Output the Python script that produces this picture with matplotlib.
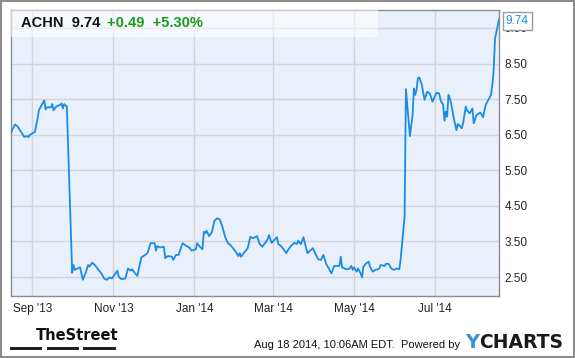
import matplotlib
matplotlib.use('Agg')
import matplotlib.pyplot as plt
from matplotlib.patches import Rectangle
import pandas as pd

plt.rcParams['font.family'] = ['Liberation Sans', 'DejaVu Sans']

dates = [
    '2013-08-16', '2013-08-19', '2013-08-21', '2013-08-23', '2013-08-26',
    '2013-08-28', '2013-08-29', '2013-08-30', '2013-09-03', '2013-09-05',
    '2013-09-06', '2013-09-09', '2013-09-10', '2013-09-11', '2013-09-12',
    '2013-09-15', '2013-09-16', '2013-09-17', '2013-09-19', '2013-09-22',
    '2013-09-23', '2013-09-24', '2013-09-25', '2013-09-27', '2013-10-01',
    '2013-10-02', '2013-10-03', '2013-10-05', '2013-10-07', '2013-10-09',
    '2013-10-11', '2013-10-13', '2013-10-14', '2013-10-16', '2013-10-18',
    '2013-10-20', '2013-10-23', '2013-10-25', '2013-10-27', '2013-10-29',
    '2013-10-31', '2013-11-04', '2013-11-05', '2013-11-07', '2013-11-10',
    '2013-11-12', '2013-11-14', '2013-11-15', '2013-11-17', '2013-11-19',
    '2013-11-21', '2013-11-22', '2013-11-26', '2013-11-27', '2013-11-29',
    '2013-12-02', '2013-12-03', '2013-12-04', '2013-12-06', '2013-12-09',
    '2013-12-10', '2013-12-12', '2013-12-15', '2013-12-16', '2013-12-18',
    '2013-12-20', '2013-12-23', '2013-12-26', '2013-12-28', '2013-12-30',
    '2014-01-02', '2014-01-03', '2014-01-05', '2014-01-07', '2014-01-08',
    '2014-01-09', '2014-01-10', '2014-01-12', '2014-01-14', '2014-01-16',
    '2014-01-18', '2014-01-20', '2014-01-22', '2014-01-24', '2014-01-26',
    '2014-01-28', '2014-01-30', '2014-02-01', '2014-02-03', '2014-02-04',
    '2014-02-05', '2014-02-07', '2014-02-09', '2014-02-10', '2014-02-12',
    '2014-02-14', '2014-02-16', '2014-02-17', '2014-02-19', '2014-02-21',
    '2014-02-23', '2014-02-25', '2014-02-26', '2014-02-28', '2014-03-02',
    '2014-03-04', '2014-03-05', '2014-03-07', '2014-03-09', '2014-03-11',
    '2014-03-12', '2014-03-14', '2014-03-17', '2014-03-19', '2014-03-20',
    '2014-03-22', '2014-03-24', '2014-03-25', '2014-03-27', '2014-03-29',
    '2014-03-31', '2014-04-02', '2014-04-04', '2014-04-06', '2014-04-08',
    '2014-04-10', '2014-04-12', '2014-04-14', '2014-04-16', '2014-04-18',
    '2014-04-20', '2014-04-21', '2014-04-22', '2014-04-25', '2014-04-27',
    '2014-04-29', '2014-04-30', '2014-05-01', '2014-05-03', '2014-05-04',
    '2014-05-06', '2014-05-07', '2014-05-08', '2014-05-10', '2014-05-12',
    '2014-05-13', '2014-05-15', '2014-05-17', '2014-05-19', '2014-05-20',
    '2014-05-21', '2014-05-24', '2014-05-25', '2014-05-27', '2014-05-29',
    '2014-05-31', '2014-06-02', '2014-06-04', '2014-06-05', '2014-06-08',
    '2014-06-09', '2014-06-12', '2014-06-14', '2014-06-15', '2014-06-16',
    '2014-06-17', '2014-06-18', '2014-06-19', '2014-06-21', '2014-06-23',
    '2014-06-25', '2014-06-27', '2014-06-29', '2014-07-02', '2014-07-04',
    '2014-07-05', '2014-07-07', '2014-07-08', '2014-07-09', '2014-07-10',
    '2014-07-11', '2014-07-12', '2014-07-13', '2014-07-15', '2014-07-17',
    '2014-07-18', '2014-07-19', '2014-07-21', '2014-07-22', '2014-07-24',
    '2014-07-25', '2014-07-27', '2014-07-29', '2014-07-30', '2014-08-01',
    '2014-08-03', '2014-08-04', '2014-08-06', '2014-08-08', '2014-08-10',
    '2014-08-12', '2014-08-13', '2014-08-14', '2014-08-15', '2014-08-18',
]

prices = [
    6.56, 6.79, 6.73, 6.61, 6.44,
    6.46, 6.43, 6.49, 6.58, 6.96,
    7.19, 7.40, 7.46, 7.21, 7.27,
    7.27, 7.36, 7.19, 7.29, 7.34,
    7.38, 7.24, 7.36, 7.29, 2.62,
    2.84, 2.70, 2.74, 2.77, 2.42,
    2.60, 2.84, 2.79, 2.90, 2.84,
    2.74, 2.60, 2.46, 2.42, 2.49,
    2.46, 2.68, 2.51, 2.44, 2.46,
    2.74, 2.68, 2.72, 2.62, 2.53,
    2.88, 3.05, 3.15, 3.21, 3.45,
    3.45, 3.24, 3.37, 3.33, 3.35,
    3.03, 3.09, 3.07, 2.98, 3.12,
    3.12, 3.45, 3.37, 3.33, 3.24,
    3.28, 3.45, 3.35, 3.28, 3.77,
    3.73, 3.80, 3.65, 3.75, 4.08,
    4.15, 4.12, 3.91, 3.63, 3.46,
    3.40, 3.31, 3.21, 3.09, 3.17,
    3.07, 3.17, 3.26, 3.31, 3.63,
    3.59, 3.63, 3.65, 3.43, 3.35,
    3.45, 3.56, 3.68, 3.46, 3.54,
    3.62, 3.43, 3.37, 3.28, 3.17,
    3.24, 3.35, 3.46, 3.43, 3.52,
    3.42, 3.62, 3.45, 3.17, 3.24,
    3.31, 3.15, 3.00, 2.98, 3.12,
    2.87, 2.74, 2.60, 2.81, 2.81,
    2.81, 3.07, 2.77, 2.72, 2.72,
    2.81, 2.70, 2.77, 2.65, 2.74,
    2.60, 2.49, 2.79, 2.88, 2.93,
    2.79, 2.65, 2.70, 2.72, 2.74,
    2.84, 2.81, 2.87, 2.87, 2.74,
    2.70, 2.74, 2.72, 2.98, 4.20,
    7.78, 6.46, 7.05, 7.80, 7.62,
    7.76, 8.09, 8.11, 7.90, 7.48,
    7.71, 7.66, 7.43, 7.68, 7.66,
    7.48, 7.34, 6.89, 7.15, 7.01,
    7.62, 7.52, 7.38, 6.96, 6.63,
    6.80, 6.77, 6.68, 6.82, 7.29,
    7.18, 7.10, 7.24, 6.82, 7.05,
    7.10, 7.12, 6.99, 7.34, 7.48,
    7.62, 7.90, 8.32, 9.20, 9.74,
]

tick_dates = ['2013-09-01', '2013-11-01', '2014-01-01', '2014-03-01',
              '2014-05-01', '2014-07-01']
tick_labels = ["Sep '13", "Nov '13", "Jan '14", "Mar '14", "May '14", "Jul '14"]
y_ticks = [2.5, 3.5, 4.5, 5.5, 6.5, 7.5, 8.5, 9.5]

ticker = 'ACHN'
last = '9.74'
change = '+0.49'
pct = '+5.30%'

x = pd.to_datetime(dates)

fig = plt.figure(figsize=(5.75, 3.58), dpi=100)
ax = fig.add_axes([11 / 575, 1 - 296 / 358, 488 / 575, 286 / 358])

ax.set_facecolor('#e9f0fb')
ax.plot(x, prices, color='#1a8ce6', lw=1.3, zorder=4)

ax.set_xlim(pd.Timestamp('2013-08-16'), pd.Timestamp('2014-08-18'))
ax.set_ylim(1.966, 10.006)

ax.set_xticks(pd.to_datetime(tick_dates))
ax.set_xticklabels(tick_labels)
ax.set_yticks(y_ticks)
ax.set_yticklabels(['%.2f' % v for v in y_ticks])
ax.yaxis.tick_right()
ax.tick_params(axis='both', length=0, labelsize=8.5, colors='#222222')
ax.tick_params(axis='x', pad=5)
ax.tick_params(axis='y', pad=4)
ax.grid(color='#d4d4d4', lw=1)
ax.set_axisbelow(True)
for s in ax.spines.values():
    s.set_color('#8c8c8c')
    s.set_linewidth(1)

# lighter header band
ax.add_patch(Rectangle((0, 1 - 27 / 286), 367 / 488, 27 / 286,
                       transform=ax.transAxes, facecolor='white', alpha=0.55,
                       edgecolor='none', zorder=3))

# header text
ax.text(0.02, 0.955, ticker + '  ' + last, transform=ax.transAxes,
        fontsize=10.5, fontweight='bold', color='#111111', va='center',
        zorder=5)
ax.text(0.197, 0.955, change + '  ' + pct, transform=ax.transAxes,
        fontsize=10.5, fontweight='bold', color='#1a9a1a', va='center',
        zorder=5)

# last value tag, covering the top tick label as in the original
ax.annotate(last, xy=(x[-1], prices[-1]), xytext=(5, -1),
            textcoords='offset points', va='center', ha='left',
            fontsize=8.5, color='#1a8ce6', annotation_clip=False,
            bbox=dict(boxstyle='square,pad=0.25', fc='white', ec='#999999',
                      lw=1),
            zorder=6)

# footer
fig.text(36 / 575, 1 - 335 / 358, 'TheStreet',
         family=['Liberation Sans Narrow', 'DejaVu Sans Condensed',
                 'DejaVu Sans'],
         fontsize=10.5, fontweight='bold', color='#111111', va='center')
for x0, x1 in [(10, 42), (47, 79), (83, 116)]:
    fig.add_artist(Rectangle((x0 / 575, 1 - 350 / 358), (x1 - x0) / 575,
                             3.5 / 358, transform=fig.transFigure,
                             facecolor='#222222', edgecolor='none'))
fig.text(460 / 575, 1 - 345 / 358, 'Aug 18 2014, 10:06AM EDT.  Powered by',
         fontsize=8, color='#111111', ha='right', va='center')
fig.text(465 / 575, 1 - 343 / 358, 'Y', fontsize=14, fontweight='bold',
         color='#3a8fe0', va='center', family='DejaVu Sans')
fig.text(479 / 575, 1 - 343 / 358, 'CHARTS', fontsize=13.5,
         fontweight='bold', color='#1a1a1a', va='center',
         family='DejaVu Sans')

# outer border
fig.add_artist(Rectangle((0.001, 0.002), 0.997, 0.995,
                         transform=fig.transFigure, facecolor='none',
                         edgecolor='#8c8c8c', lw=1.5))

fig.savefig('out.png', dpi=100)
